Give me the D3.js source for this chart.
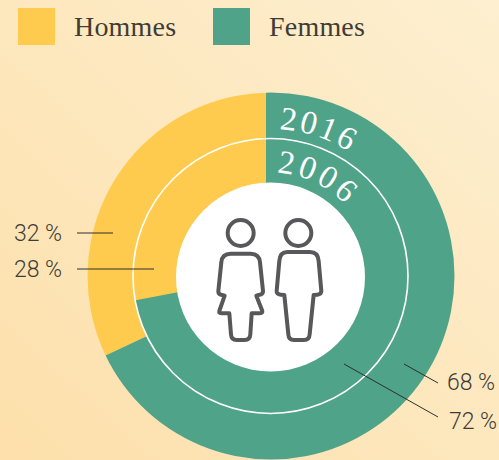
<!DOCTYPE html>
<html>
<head>
<meta charset="utf-8">
<style>
    html, body { margin: 0; padding: 0; background: #fde8bf; }
    svg { display: block; }
</style>
</head>
<body>
<script src="https://d3js.org/d3.v7.min.js"></script>
<script>
    var width = 499,
        height = 460;

    // share of each group, per year
    var categories = ['Hommes', 'Femmes'];
    var years = ['2016', '2006'];
    var values2016 = [32, 68];
    var values2006 = [28, 72];

    var color = d3.scaleOrdinal().domain(categories).range(['#ffcb4f', '#4fa388']);

    var svg = d3.select('body').append('svg')
        .attr('width', width)
        .attr('height', height);

    var defs = svg.append('defs');

    var grad = defs.append('linearGradient')
        .attr('id', 'bg')
        .attr('x1', 0).attr('y1', 1)
        .attr('x2', 1).attr('y2', 0);
    grad.append('stop').attr('offset', '0%').attr('stop-color', '#fde0ab');
    grad.append('stop').attr('offset', '100%').attr('stop-color', '#fdefd0');

    svg.append('rect')
        .attr('width', width)
        .attr('height', height)
        .attr('fill', 'url(#bg)');

    // legend
    var legendX = d3.scaleOrdinal().domain(categories).range([18, 213]);
    var legend = svg.selectAll('.legend')
        .data(categories)
        .enter().append('g')
        .attr('class', 'legend')
        .attr('transform', d => `translate(${legendX(d)},8)`);
    legend.append('rect')
        .attr('width', 37)
        .attr('height', 37)
        .attr('fill', d => color(d));
    legend.append('text')
        .attr('x', 56)
        .attr('y', 28)
        .attr('font-family', '"Liberation Serif", serif')
        .attr('font-size', 28)
        .attr('letter-spacing', 0.2)
        .attr('fill', '#3f3c36')
        .text(d => d);

    // the rings are round (271,276) but the slices meet near (266,276)
    var cx = 270.5,
        cy = 276,
        apexX = 266,
        outerR = 183.5,
        midR = 137.5,
        holeR = 94.5;

    // negative direction so the first slice (Hommes) grows anticlockwise from the top
    var pie = d3.pie().sort(null).startAngle(0).endAngle(-2 * Math.PI);
    var arc = d3.arc().innerRadius(0).outerRadius(400);

    defs.append('clipPath').attr('id', 'clipOuter')
        .append('circle').attr('cx', cx + 0.5).attr('cy', cy).attr('r', outerR);
    defs.append('clipPath').attr('id', 'clipMid')
        .append('circle').attr('cx', cx).attr('cy', cy).attr('r', midR);

    function ring(values, clip, apexY) {
        svg.append('g')
            .attr('clip-path', `url(#${clip})`)
            .append('g')
            .attr('transform', `translate(${apexX},${apexY})`)
            .selectAll('path')
            .data(pie(values))
            .enter().append('path')
            .attr('d', arc)
            .attr('fill', (d, i) => color(categories[i]));
    }
    ring(values2016, 'clipOuter', 280);
    ring(values2006, 'clipMid', 275.5);

    svg.append('circle')
        .attr('cx', cx).attr('cy', cy).attr('r', midR)
        .attr('fill', 'none')
        .attr('stroke', '#fff')
        .attr('stroke-width', 1.6);

    svg.append('circle')
        .attr('cx', cx).attr('cy', cy + 1).attr('r', holeR)
        .attr('fill', '#fff');

    // years written along the rings
    var yearRadius = d3.scaleOrdinal().domain(years).range([147, 103.5]);
    var yearSpacing = d3.scaleOrdinal().domain(years).range([2.5, 3.5]);
    years.forEach(function (y) {
        var r = yearRadius(y);
        // clockwise arc from just right of the top
        var a0 = 0.06, a1 = 1.4;
        var x0 = cx + r * Math.sin(a0), y0 = cy - r * Math.cos(a0);
        var x1 = cx + r * Math.sin(a1), y1 = cy - r * Math.cos(a1);
        defs.append('path')
            .attr('id', 'arc' + y)
            .attr('d', `M${x0},${y0} A${r},${r} 0 0 1 ${x1},${y1}`);
        svg.append('text')
            .attr('font-family', '"Liberation Serif", serif')
            .attr('font-size', 33)
            .attr('letter-spacing', yearSpacing(y))
            .attr('fill', '#fff')
            .append('textPath')
            .attr('href', '#arc' + y)
            .text(y);
    });

    // leader lines and value labels
    var labels = ['32 %', '28 %', '68 %', '72 %'];
    var labelX = d3.scaleOrdinal().domain(labels).range([14, 14, 447, 449]);
    var labelY = d3.scaleOrdinal().domain(labels).range([241, 277, 390, 429]);
    var leaders = d3.scaleOrdinal().domain(labels).range([
        [77, 233, 113, 233],
        [77, 269, 154, 269],
        [438, 383, 404, 364],
        [438, 417, 344, 364]
    ]);

    svg.selectAll('.leader')
        .data(labels)
        .enter().append('line')
        .attr('class', 'leader')
        .attr('x1', d => leaders(d)[0])
        .attr('y1', d => leaders(d)[1])
        .attr('x2', d => leaders(d)[2])
        .attr('y2', d => leaders(d)[3])
        .attr('stroke', '#2f2f2a')
        .attr('stroke-width', 1);

    svg.selectAll('.value')
        .data(labels)
        .enter().append('text')
        .attr('class', 'value')
        .attr('x', d => labelX(d))
        .attr('y', d => labelY(d))
        .attr('font-family', 'Roboto, sans-serif')
        .attr('font-size', 23)
        .attr('font-weight', 300)
        .attr('fill', '#3f3c38')
        .text(d => d);

    // pictograms, drawn in 3x units
    var icon = svg.append('g')
        .attr('transform', 'translate(200,205) scale(0.3333)')
        .attr('fill', 'none')
        .attr('stroke', '#58585a')
        .attr('stroke-width', 12)
        .attr('stroke-linejoin', 'round');
    icon.append('circle').attr('cx', 122).attr('cy', 84).attr('r', 39);
    icon.append('circle').attr('cx', 295).attr('cy', 84).attr('r', 39);
    icon.append('path').attr('d',
        'M92,146 H152 Q178,146 180,172 L189,258 Q190,268 176,270 L169,272 L187,318 Q188,325 178,325 L155,325 ' +
        'L151,388 Q150,405 134,405 H110 Q94,405 93,388 L88,325 L66,325 Q56,325 58,318 L74,272 L66,270 Q54,268 55,258 ' +
        'L64,172 Q66,146 92,146 Z');
    icon.append('path').attr('d',
        'M262,141 H330 Q354,141 356,168 L364,258 Q364,268 352,269 L341,270 L329,388 Q328,405 312,405 H282 Q266,405 265,388 ' +
        'L253,270 L242,269 Q229,268 230,258 L238,168 Q240,141 262,141 Z');
</script>
</body>
</html>
